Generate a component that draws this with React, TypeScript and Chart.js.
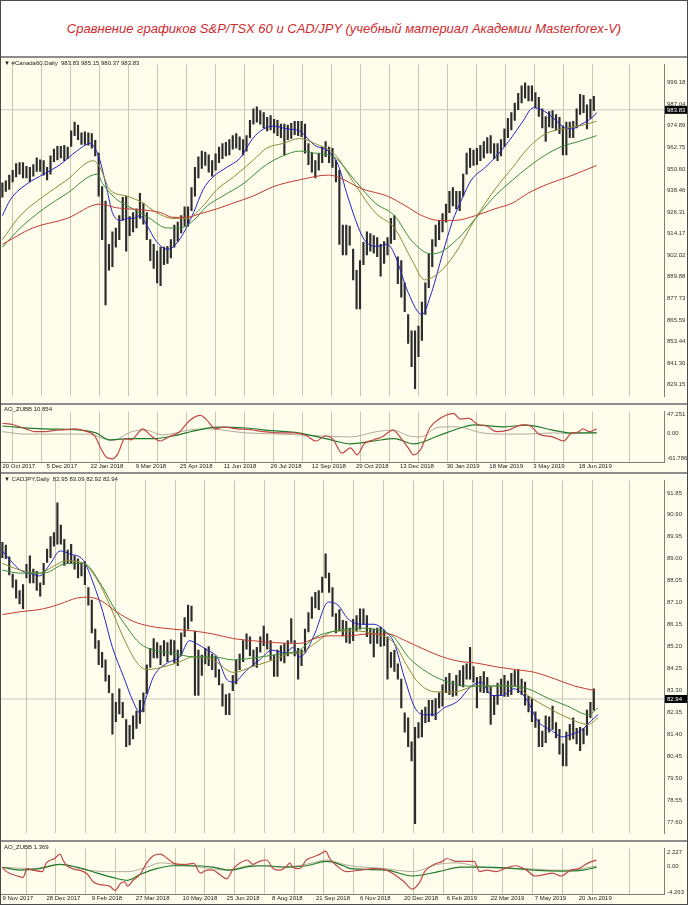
import React, { useEffect, useRef } from "react";
import { Chart, registerables } from "chart.js";

Chart.register(...registerables);

const FONT = "'Liberation Sans', Arial, sans-serif";
const BG = "#fffdec";
const GRID = "#cbc5ab";

const TITLE = "Сравнение графиков S&P/TSX 60 и CAD/JPY (учебный материал Академии Masterforex-V)";
const TSX_HEADER = "▼ #Canada60,Daily  983.83 985.15 980.37 983.83";
const CAD_HEADER = "▼ CADJPY,Daily  82.95 83.09 82.92 82.94";
const OSC1_HEADER = "AO_ZUBB 10.854";
const OSC2_HEADER = "AO_ZUBB 1.369";

// bars are read every 5 sessions (set A) and half-way between them (set B)
const SAMPLE_STEP = 5;
const X_MIN = -1;
const X_MAX = 481;

// ---------- S&P/TSX 60 ----------
const tsxHigh = [
  942.7, 947.1, 953.6, 954.1, 951.4, 956.8, 955.2, 957.9, 963.3, 963.9,
  972.0, 975.2, 971.4, 970.4, 959.5, 932.5, 915.1, 924.3, 935.2, 926.0,
  936.8, 926.0, 908.1, 906.5, 907.0, 918.9, 924.3, 929.2, 951.4, 960.6,
  958.5, 959.0, 964.9, 967.1, 970.4, 967.1, 977.9, 985.5, 982.3, 980.6,
  977.9, 975.8, 976.3, 977.4, 975.8, 959.5, 959.5, 966.0, 962.2, 949.8,
  918.9, 905.4, 898.9, 915.1, 913.0, 908.1, 911.9, 924.3, 898.9, 868.6,
  859.4, 875.6, 902.7, 918.9, 925.4, 937.9, 937.9, 947.6, 962.2, 962.2,
  966.0, 969.3, 964.9, 973.1, 982.3, 993.1, 999.1, 997.4, 990.9, 980.1,
  983.4, 979.6, 976.9, 977.4, 992.6, 986.6, 991.5,
];
const tsxLow = [
  934.6, 939.0, 946.0, 945.5, 943.3, 949.2, 947.1, 947.6, 955.7, 955.2,
  963.3, 967.1, 964.4, 962.2, 935.2, 874.0, 895.6, 910.8, 904.3, 915.1,
  922.7, 910.8, 894.6, 884.8, 897.3, 906.5, 914.6, 918.4, 935.2, 950.9,
  948.7, 949.8, 956.3, 958.5, 962.2, 958.5, 968.2, 976.9, 973.6, 972.5,
  969.3, 958.5, 967.7, 969.3, 959.5, 948.7, 949.8, 957.4, 951.4, 908.1,
  902.1, 888.1, 871.8, 902.1, 903.2, 890.2, 902.1, 910.8, 878.3, 852.3,
  826.9, 854.0, 883.7, 907.0, 915.1, 926.0, 928.1, 935.2, 951.4, 953.0,
  956.8, 959.5, 955.2, 963.3, 972.5, 983.9, 990.4, 988.8, 980.1, 966.0,
  973.6, 970.4, 958.5, 968.2, 981.2, 973.1, 983.4,
];
const tsxHighB = [
  943.8, 949.8, 954.1, 952.0, 953.0, 955.7, 951.4, 961.7, 963.3, 962.8,
  976.9, 970.9, 970.9, 966.6, 940.6, 908.1, 917.3, 934.6, 923.8, 928.1,
  931.4, 910.8, 904.3, 906.5, 910.8, 920.6, 929.2, 940.0, 957.4, 960.1,
  955.2, 962.8, 965.5, 969.3, 968.7, 969.3, 984.4, 983.4, 979.6, 978.5,
  975.8, 975.2, 977.4, 977.4, 964.9, 955.2, 962.8, 962.8, 955.2, 918.9,
  918.4, 893.5, 909.2, 914.1, 911.9, 909.7, 922.7, 901.1, 886.4, 859.4,
  862.1, 886.4, 910.8, 921.6, 930.8, 940.0, 937.9, 959.5, 961.2, 963.9,
  968.2, 964.9, 967.1, 979.0, 987.7, 997.4, 997.4, 993.6, 984.4, 982.8,
  981.2, 974.7, 976.9, 984.4, 992.0, 989.8,
];
const tsxLowB = [
  937.9, 943.3, 947.6, 945.5, 946.5, 949.2, 944.4, 954.7, 956.8, 956.3,
  969.3, 964.4, 963.9, 957.9, 910.8, 893.5, 906.5, 921.6, 913.0, 917.3,
  919.5, 898.9, 886.4, 896.7, 900.5, 909.7, 918.4, 927.1, 945.5, 952.5,
  946.5, 954.1, 957.9, 961.7, 961.2, 960.6, 975.8, 975.8, 972.0, 970.9,
  968.2, 967.1, 969.8, 968.7, 953.0, 945.5, 954.1, 954.1, 943.3, 902.1,
  907.6, 871.8, 896.7, 904.3, 901.1, 897.3, 908.6, 885.9, 870.2, 839.3,
  844.8, 868.6, 895.6, 910.8, 920.6, 929.8, 927.1, 947.6, 952.5, 955.2,
  959.5, 956.3, 957.9, 968.2, 977.9, 987.7, 988.8, 985.0, 973.6, 974.2,
  972.5, 958.5, 968.2, 973.6, 982.3, 979.0,
];
const tsxMaBlue = [
  [0, 924.3], [6, 933.5], [18, 942.2], [30, 947.6], [42, 953.0], [54, 960.6], [64, 964.9], [66, 963.9],
  [71, 955.2], [76, 939.0], [80, 926.0], [86, 921.6], [91, 922.7], [95, 922.7], [100, 924.3], [105, 918.9],
  [112, 909.7], [120, 905.4], [124, 906.5], [131, 913.5], [139, 926.0], [146, 939.0], [153, 946.0], [163, 951.4],
  [173, 956.8], [182, 967.7], [190, 973.1], [197, 974.7], [207, 973.1], [216, 972.0], [220, 969.3], [227, 963.9],
  [237, 960.6], [244, 953.0], [251, 935.2], [259, 917.3], [264, 909.7], [273, 907.0], [280, 908.1], [285, 902.7],
  [295, 881.0], [305, 868.6], [312, 881.0], [320, 902.7], [327, 920.6], [334, 933.5], [341, 944.4], [351, 951.4],
  [358, 956.8], [368, 966.0], [378, 976.9], [386, 985.0], [392, 983.9], [400, 979.6], [407, 974.7], [414, 973.1],
  [421, 975.8], [429, 979.6], [432, 982.3],
];
const tsxMaOlive = [
  [0, 910.8], [13, 924.3], [30, 935.2], [47, 944.4], [66, 955.2], [71, 951.4], [78, 939.0], [91, 935.2],
  [102, 931.4], [112, 926.0], [124, 922.7], [134, 922.7], [144, 928.1], [156, 939.0], [168, 946.0], [182, 955.2],
  [192, 962.2], [204, 964.9], [216, 967.7], [227, 964.9], [242, 958.5], [256, 942.2], [271, 926.0], [285, 917.3],
  [298, 898.9], [307, 888.1], [317, 891.9], [329, 902.7], [344, 922.7], [358, 939.0], [371, 951.4], [382, 962.2],
  [395, 970.4], [407, 973.1], [419, 974.7], [432, 977.4],
];
const tsxMaGreen = [
  [0, 906.5], [13, 917.3], [30, 928.1], [47, 936.8], [69, 947.6], [73, 942.2], [83, 933.5], [95, 928.1],
  [107, 922.7], [120, 917.3], [129, 917.3], [139, 921.6], [149, 929.8], [160, 935.2], [175, 942.2], [192, 953.0],
  [204, 957.9], [216, 960.6], [227, 959.5], [242, 956.8], [256, 944.4], [271, 931.4], [285, 924.3], [298, 909.7],
  [312, 902.7], [320, 904.3], [334, 913.5], [344, 922.7], [358, 935.2], [371, 944.4], [382, 951.4], [395, 958.5],
  [407, 963.3], [419, 966.0], [432, 969.3],
];
const tsxMaRed = [
  [0, 908.1], [22, 917.3], [47, 922.7], [71, 930.8], [83, 928.7], [100, 927.6], [115, 926.0], [124, 923.3],
  [134, 923.3], [144, 925.4], [156, 928.1], [168, 931.4], [182, 935.2], [197, 940.6], [216, 944.4], [237, 947.1],
  [244, 946.0], [261, 939.5], [280, 935.2], [293, 929.8], [305, 924.3], [317, 921.6], [329, 921.6], [344, 924.3],
  [358, 928.1], [371, 931.4], [382, 936.8], [397, 942.2], [411, 946.0], [432, 952.5],
];
const tsxLast = 983.83;
const tsxTickValues = [829.15, 841.3, 853.44, 865.59, 877.73, 889.88, 902.02, 914.17, 926.31, 938.46, 950.6, 962.75, 974.89, 987.04, 999.18];
const tsxTickLabels = ["829.15", "841.30", "853.44", "865.59", "877.73", "889.88", "902.02", "914.17", "926.31", "938.46", "950.60", "962.75", "974.89", "987.04", "999.18"];

const osc1Red = [
  [0, 25.8], [8, 22], [17, 12], [24, 5], [30, 5], [37, 7.5], [46, 10], [53, 12], [59, 7.5], [67, -5], [72, -39],
  [76, -59], [80, -62], [84, -49], [89, -12], [94, -15], [97, -5], [102, 12], [108, -5], [115, -18], [121, -8],
  [129, 5], [136, 32], [144, 45], [148, 36], [155, 12], [161, 16], [171, 12], [180, 10], [190, 5], [203, 2],
  [212, 2], [221, -5], [228, -18], [235, -5], [240, -12], [247, -48], [253, -35], [258, -52], [263, -25],
  [270, -15], [276, -8], [284, 9], [290, -12], [295, -35], [299, -52], [304, -39], [311, 16], [317, 35],
  [323, 46], [328, 50], [333, 36], [339, 38], [346, 22], [352, 19], [359, 5], [368, 9], [378, 22], [384, 19],
  [390, -1], [400, -8], [408, -18], [413, -1], [419, 5], [422, 12], [427, 5], [432, 12],
];
const osc1Green = [
  [0, 19], [30, 12], [53, 10], [68, 2], [78, -15], [94, -12], [110, -12], [125, -5], [142, 9], [157, 16],
  [177, 14], [196, 7.5], [215, 2], [235, -12], [253, -25], [270, -18], [285, -12], [299, -25], [317, -5],
  [333, 14], [343, 22], [365, 17], [381, 21], [400, 9], [413, 2], [426, 2], [432, 2],
];
const osc1Light = [
  [0, 5], [17, -1], [46, -1], [62, -1], [80, -17], [94, 5], [104, 9], [116, -3], [136, 9], [148, 12], [177, 2],
  [203, -1], [228, -5], [253, -8], [272, 5], [284, 9], [295, -5], [304, -8], [317, 16], [330, 17], [349, 2],
  [365, -1], [381, -1], [400, 2], [413, 0], [432, 3],
];
const osc1TickValues = [47.251, 0, -61.786];
const osc1TickLabels = ["47.251", "0.00", "-61.786"];

const tsxDates = ["20 Oct 2017", "5 Dec 2017", "22 Jan 2018", "9 Mar 2018", "25 Apr 2018", "11 Jun 2018", "26 Jul 2018", "12 Sep 2018", "29 Oct 2018", "13 Dec 2018", "30 Jan 2019", "18 Mar 2019", "3 May 2019", "18 Jun 2019"];
const tsxDateBars = [0, 32, 64, 97, 129, 161, 195, 225, 257, 289, 323, 354, 386, 419];

// ---------- CAD/JPY ----------
const cadHigh = [
  89.71, 89.09, 88.09, 87.88, 89.13, 88.46, 88.80, 89.96, 91.42, 89.84,
  89.63, 89.00, 88.88, 87.21, 85.46, 84.63, 83.17, 83.38, 82.05, 82.21,
  82.88, 84.42, 85.55, 85.25, 85.38, 85.46, 85.80, 87.00, 85.88, 84.84,
  85.21, 84.80, 83.59, 83.17, 84.63, 85.46, 85.63, 85.17, 86.09, 85.46,
  85.05, 85.34, 86.42, 85.13, 85.96, 87.34, 87.63, 89.21, 87.76, 86.80,
  86.30, 86.38, 86.84, 86.55, 85.96, 86.05, 85.63, 85.05, 83.80, 82.13,
  81.71, 82.46, 82.88, 82.96, 83.55, 84.05, 83.96, 84.38, 85.17, 83.88,
  84.13, 83.46, 83.63, 83.96, 84.05, 84.21, 83.67, 82.96, 82.05, 82.21,
  82.63, 81.63, 81.51, 82.13, 81.71, 82.46, 83.38,
];
const cadLow = [
  89.05, 88.30, 87.30, 86.84, 87.96, 87.63, 87.88, 89.05, 89.63, 88.71,
  88.80, 88.17, 87.88, 85.80, 84.42, 83.71, 81.42, 82.30, 80.88, 81.21,
  81.88, 83.17, 84.71, 84.42, 84.55, 84.50, 84.80, 85.96, 83.09, 83.96,
  84.38, 83.88, 82.63, 82.26, 83.59, 84.55, 84.80, 84.30, 85.25, 84.63,
  83.92, 84.50, 85.38, 83.80, 84.96, 86.42, 86.80, 88.17, 86.51, 85.88,
  85.38, 85.46, 85.96, 85.63, 84.76, 85.21, 83.80, 84.13, 82.55, 80.88,
  77.55, 81.30, 81.96, 82.05, 82.63, 83.13, 83.09, 83.46, 83.80, 82.55,
  83.21, 81.84, 82.71, 83.05, 83.13, 83.21, 82.67, 81.96, 80.88, 81.05,
  81.63, 80.55, 80.05, 81.21, 80.71, 81.38, 82.46,
];
const cadHighB = [
  89.59, 88.34, 87.63, 88.76, 88.55, 87.96, 89.42, 90.13, 90.46, 89.38,
  89.13, 88.84, 87.76, 85.96, 84.96, 83.96, 82.80, 82.80, 81.80, 82.42,
  83.21, 85.13, 85.38, 85.46, 85.50, 85.05, 86.46, 86.96, 85.05, 85.13,
  84.88, 84.21, 83.13, 83.96, 84.88, 85.76, 85.05, 85.63, 85.76, 84.84,
  85.25, 85.46, 85.46, 85.05, 86.67, 87.55, 88.21, 88.38, 86.63, 86.34,
  86.00, 86.55, 86.84, 86.00, 86.00, 85.92, 84.96, 84.46, 82.34, 81.09,
  81.92, 82.59, 82.88, 83.21, 83.88, 83.71, 84.17, 84.46, 84.34, 83.92,
  83.88, 83.09, 83.80, 83.71, 84.17, 83.80, 83.05, 82.38, 81.55, 82.17,
  81.92, 81.00, 81.84, 81.67, 81.67, 82.80,
];
const cadLowB = [
  89.00, 87.76, 87.05, 88.17, 87.96, 87.38, 88.84, 89.55, 89.63, 88.80,
  88.55, 88.26, 87.00, 85.13, 84.30, 83.21, 81.96, 82.13, 80.96, 81.67,
  82.38, 84.30, 84.71, 84.80, 84.84, 84.38, 85.63, 86.30, 83.09, 84.46,
  84.21, 83.55, 82.26, 83.30, 84.21, 85.09, 84.38, 84.96, 85.09, 83.92,
  84.59, 84.80, 84.80, 84.38, 85.84, 86.88, 87.55, 87.55, 85.80, 85.67,
  85.34, 85.88, 86.17, 85.34, 85.34, 85.25, 84.30, 83.80, 81.51, 80.26,
  81.26, 81.92, 82.21, 82.55, 83.21, 83.05, 83.50, 83.80, 83.67, 83.25,
  83.21, 82.26, 83.13, 83.05, 83.50, 83.13, 82.38, 81.71, 80.88, 81.51,
  81.26, 80.05, 81.17, 81.00, 81.00, 82.13,
];
const cadMaBlue = [
  [0, 89.34], [6, 88.92], [13, 88.51], [20, 88.38], [27, 88.26], [35, 88.8], [42, 89.34], [49, 89.21],
  [59, 88.92], [66, 87.96], [73, 86.71], [80, 85.17], [88, 83.92], [95, 82.84], [100, 82.34], [105, 83.09],
  [110, 83.92], [120, 84.5], [129, 84.76], [136, 85.46], [141, 85.34], [149, 85.05], [156, 84.76], [163, 83.8],
  [168, 83.67], [178, 84.21], [187, 84.63], [196, 85.05], [206, 84.92], [211, 85.17], [216, 84.76], [220, 84.92],
  [227, 85.75], [237, 87.13], [244, 87.0], [251, 86.42], [261, 86.17], [270, 86.17], [278, 85.88], [285, 85.34],
  [292, 83.92], [300, 82.55], [307, 82.26], [314, 82.26], [321, 82.55], [331, 82.84], [341, 83.5], [348, 83.67],
  [356, 83.09], [363, 83.09], [372, 83.38], [382, 82.84], [389, 82.0], [399, 81.59], [407, 81.3], [414, 81.42],
  [421, 81.59], [428, 82.0], [433, 82.26],
];
const cadMaOlive = [
  [0, 88.8], [13, 88.51], [27, 88.38], [37, 88.67], [47, 88.92], [59, 88.8], [69, 88.09], [78, 87.0],
  [88, 85.59], [98, 84.5], [105, 84.21], [115, 84.3], [127, 84.5], [139, 84.76], [153, 84.63], [168, 84.09],
  [182, 84.34], [197, 84.63], [211, 84.92], [216, 84.92], [227, 85.34], [242, 85.88], [256, 85.88], [271, 85.75],
  [285, 85.34], [293, 84.5], [302, 83.67], [315, 83.25], [329, 83.25], [344, 83.5], [358, 83.5], [373, 83.5],
  [382, 83.09], [397, 82.55], [411, 82.13], [426, 81.84], [433, 82.13],
];
const cadMaGreen = [
  [0, 88.51], [13, 88.38], [30, 88.38], [47, 88.8], [59, 88.8], [71, 87.96], [80, 87.0], [91, 86.0],
  [100, 85.34], [110, 85.05], [124, 84.92], [139, 84.76], [153, 84.76], [168, 84.63], [182, 84.71], [197, 84.84],
  [211, 84.96], [216, 85.05], [227, 85.59], [242, 85.88], [261, 86.0], [276, 85.88], [285, 85.59], [295, 84.76],
  [309, 84.09], [324, 83.67], [339, 83.5], [353, 83.5], [368, 83.5], [382, 83.38], [397, 82.96], [411, 82.63],
  [426, 82.26], [433, 82.55],
];
const cadMaRed = [
  [0, 86.59], [13, 86.71], [30, 86.84], [42, 87.05], [54, 87.3], [62, 87.34], [71, 87.21], [83, 86.71],
  [95, 86.3], [107, 86.09], [124, 85.96], [139, 85.88], [153, 85.75], [168, 85.55], [182, 85.46], [197, 85.38],
  [216, 85.34], [227, 85.55], [237, 85.67], [251, 85.67], [266, 85.75], [280, 85.75], [293, 85.46], [305, 85.13],
  [320, 84.76], [334, 84.55], [344, 84.5], [358, 84.34], [373, 84.21], [387, 84.09], [402, 83.8], [416, 83.5],
  [431, 83.3],
];
const cadLast = 82.94;
const cadTickValues = [77.6, 78.55, 79.5, 80.45, 81.4, 82.35, 83.3, 84.25, 85.2, 86.15, 87.1, 88.05, 89.0, 89.95, 90.9, 91.85];
const cadTickLabels = ["77.60", "78.55", "79.50", "80.45", "81.40", "82.35", "83.30", "84.25", "85.20", "86.15", "87.10", "88.05", "89.00", "89.95", "90.90", "91.85"];

const osc2Red = [
  [0, -0.2], [3, -0.92], [11, -1.64], [15, -1.87], [18, -0.43], [22, -0.67], [29, -0.92], [32, 0.53], [38, 1.25],
  [42, 1.97], [44, 1.0], [47, 0.05], [51, -0.43], [59, -0.92], [62, -1.4], [66, -2.6], [71, -3.07], [78, -3.31],
  [82, -4.03], [86, -2.83], [89, -2.6], [91, -3.31], [95, -2.35], [100, -1.4], [105, 0.53], [110, 1.73],
  [115, 1.97], [120, 1.25], [124, 0.53], [129, 0.29], [134, 0.29], [139, 0.43], [144, -1.16], [149, -0.67],
  [153, -0.67], [158, -1.4], [163, -2.1], [168, -0.43], [173, 0.53], [178, 1.0], [182, 0.29], [187, 0.77],
  [192, 1.0], [197, -0.43], [202, -0.67], [207, 0.05], [209, 0.53], [211, -0.19], [216, -0.43], [221, 1.0],
  [226, 1.49], [231, 1.97], [235, 2.45], [238, 1.25], [243, 0.05], [250, -0.92], [260, -0.67], [270, -0.43],
  [279, -0.67], [285, -1.4], [292, -2.6], [298, -3.8], [303, -2.83], [307, -0.92], [314, 0.29], [320, 0.77],
  [323, 1.25], [330, 0.77], [336, 0.77], [343, 0.77], [347, -0.92], [352, -0.67], [359, -0.92], [365, -0.43],
  [373, 0.05], [381, -0.67], [387, -1.64], [394, -1.4], [400, -1.16], [406, -1.64], [413, -0.67], [419, -0.43],
  [426, 0.53], [432, 1.0],
];
const osc2Green = [
  [0, -0.2], [13, -0.67], [27, -0.43], [42, 0.29], [54, -0.19], [69, -1.16], [80, -1.87], [91, -2.35],
  [100, -1.4], [112, -0.43], [124, 0.05], [139, 0.05], [153, -0.19], [166, -0.67], [180, -0.05], [192, 0.05],
  [207, -0.19], [221, 0.05], [236, 0.77], [248, 0.05], [253, -0.43], [279, -0.67], [298, -1.64], [317, -0.92],
  [333, -0.19], [349, -0.19], [368, -0.34], [387, -0.67], [406, -0.82], [422, -0.67], [432, -0.19],
];
const osc2Light = [
  [0, -0.2], [22, -0.43], [42, 0.29], [62, -0.67], [78, -0.92], [91, -0.92], [105, -0.19], [115, 0.53],
  [129, 0.14], [144, -0.19], [163, -0.67], [182, 0.14], [202, -0.19], [221, 0.29], [236, 1.0], [248, 0.29],
  [253, 0.05], [279, -0.43], [298, -0.92], [317, 0.29], [330, 0.53], [349, -0.19], [381, -0.43], [400, -0.67],
  [413, -0.67], [432, 0.05],
];
const osc2TickValues = [2.227, 0, -4.263];
const osc2TickLabels = ["2.227", "0.00", "-4.263"];

const cadDates = ["9 Nov 2017", "28 Dec 2017", "9 Feb 2018", "27 Mar 2018", "10 May 2018", "25 Jun 2018", "8 Aug 2018", "21 Sep 2018", "6 Nov 2018", "20 Dec 2018", "6 Feb 2019", "22 Mar 2019", "7 May 2019", "20 Jun 2019"];
const cadDateBars = [0, 32, 65, 97, 131, 163, 196, 228, 260, 292, 323, 355, 387, 419];

// vertical grid (bar positions)
const tsxGrid = [...Array.from({ length: 21 }, (_, k) => 7.7 + 21.08 * k), 456];
const cadGrid = [...Array.from({ length: 20 }, (_, k) => 17.2 + 21.66 * k), 456];

const MA_COLORS = ["#2323c4", "#8c8a34", "#3b8a3b", "#c23a32"];
const OSC_COLORS = ["#c04848", "#1f7a2a", "#b3aa9c"];

function gridAxis(grid: number[]): any {
  return {
    type: "linear",
    min: X_MIN,
    max: X_MAX,
    bounds: "data",
    offset: false,
    afterBuildTicks: (s: any) => {
      s.ticks = grid.map((v) => ({ value: v }));
    },
    afterFit: (s: any) => {
      s.height = 0;
    },
    ticks: { display: false },
    grid: { display: true, color: GRID, lineWidth: 1, drawTicks: false, offset: false },
    border: { display: false },
  };
}

function yAxis(min: number, max: number, vals: number[], labels: string[]): any {
  return {
    position: "right",
    min,
    max,
    bounds: "data",
    afterBuildTicks: (s: any) => {
      s.ticks = vals.map((v) => ({ value: v }));
    },
    afterFit: (s: any) => {
      s.width = 24;
    },
    ticks: {
      autoSkip: false,
      padding: 3,
      color: "#333",
      font: { size: 6, family: FONT },
      callback: (v: number) => labels[vals.indexOf(v)],
    },
    grid: { display: false, drawTicks: false },
    border: { display: true, color: "#7d7d7d", width: 1 },
  };
}

function tagPlugin(value: number, label: string) {
  return {
    id: "priceTag",
    afterDraw(chart: any) {
      const y = chart.scales.y.getPixelForValue(value);
      const x = chart.chartArea.right + 1;
      const ctx = chart.ctx;
      ctx.save();
      ctx.fillStyle = "#000";
      ctx.fillRect(x, y - 4, 22, 8);
      ctx.fillStyle = "#fff";
      ctx.font = `6px ${FONT}`;
      ctx.textBaseline = "middle";
      ctx.fillText(label, x + 2, y + 0.5);
      ctx.restore();
    },
  };
}

function priceChart(canvas: HTMLCanvasElement, p: any) {
  const bars = [
    ...p.high.map((h: number, i: number) => ({ x: i * SAMPLE_STEP, y: [p.low[i], h] })),
    ...p.highB.map((h: number, i: number) => ({ x: i * SAMPLE_STEP + SAMPLE_STEP / 2, y: [p.lowB[i], h] })),
  ];
  return new Chart(canvas, {
    type: "bar",
    data: {
      datasets: [
        {
          type: "line",
          data: [{ x: X_MIN, y: p.last }, { x: X_MAX, y: p.last }],
          borderColor: "#c9c9c9",
          borderWidth: 1,
          pointRadius: 0,
          order: 10,
        },
        {
          type: "bar",
          data: bars,
          backgroundColor: "#2c2c2c",
          barThickness: 1.5,
          order: 6,
        },
        ...p.mas.map((m: number[][], k: number) => ({
          type: "line",
          data: m.map(([x, y]) => ({ x, y })),
          borderColor: MA_COLORS[k],
          borderWidth: 1,
          pointRadius: 0,
          cubicInterpolationMode: "monotone",
          order: 4 - k,
        })),
      ],
    } as any,
    options: {
      animation: false,
      responsive: false,
      events: [],
      layout: { padding: { left: 1, right: 0, top: 0, bottom: 0 } },
      plugins: { legend: { display: false }, tooltip: { enabled: false } },
      scales: {
        x: gridAxis(p.grid),
        y: yAxis(p.min, p.max, p.tickVals, p.tickLabels),
      },
    } as any,
    plugins: [tagPlugin(p.last, p.lastLabel)],
  });
}

function oscChart(canvas: HTMLCanvasElement, p: any) {
  return new Chart(canvas, {
    type: "line",
    data: {
      datasets: p.lines.map((l: number[][], k: number) => ({
        data: l.map(([x, y]) => ({ x, y })),
        borderColor: OSC_COLORS[k],
        borderWidth: k === 2 ? 1 : 1.2,
        pointRadius: 0,
        cubicInterpolationMode: "monotone",
        order: k === 0 ? 1 : k === 1 ? 2 : 3,
      })),
    } as any,
    options: {
      animation: false,
      responsive: false,
      events: [],
      layout: { padding: { left: 1, right: 0, top: 0, bottom: 0 } },
      plugins: { legend: { display: false }, tooltip: { enabled: false } },
      scales: {
        x: { ...gridAxis(p.grid), border: { display: true, color: "#7d7d7d" } },
        xl: {
          type: "linear",
          position: "bottom",
          min: X_MIN,
          max: X_MAX,
          bounds: "data",
          offset: false,
          afterBuildTicks: (s: any) => {
            s.ticks = p.dateBars.map((v: number) => ({ value: v }));
          },
          afterFit: (s: any) => {
            s.height = p.axisH;
          },
          ticks: {
            autoSkip: false,
            maxRotation: 0,
            align: "start",
            padding: 1,
            color: "#222",
            font: { size: 6, family: FONT },
            callback: (v: number) => p.dates[p.dateBars.indexOf(v)],
          },
          grid: { display: false, drawTicks: false },
          border: { display: false },
        },
        y: yAxis(p.min, p.max, p.tickVals, p.tickLabels),
      },
    } as any,
  });
}

const abs = (top: number, height: number): React.CSSProperties => ({
  position: "absolute",
  left: 0,
  top,
  width: 688,
  height,
  background: BG,
});

const sep = (top: number, h = 2): React.CSSProperties => ({
  position: "absolute",
  left: 0,
  top,
  width: 688,
  height: h,
  background: "#8d8d8d",
});

const headerStyle = (top: number): React.CSSProperties => ({
  position: "absolute",
  left: 4,
  top,
  fontSize: 6,
  lineHeight: "7px",
  color: "#222",
  fontFamily: FONT,
  whiteSpace: "pre",
});

export default function App() {
  const c1 = useRef<HTMLCanvasElement>(null);
  const c2 = useRef<HTMLCanvasElement>(null);
  const c3 = useRef<HTMLCanvasElement>(null);
  const c4 = useRef<HTMLCanvasElement>(null);

  useEffect(() => {
    const charts = [
      priceChart(c1.current!, {
        high: tsxHigh,
        low: tsxLow,
        highB: tsxHighB,
        lowB: tsxLowB,
        mas: [tsxMaBlue, tsxMaOlive, tsxMaGreen, tsxMaRed],
        min: 822.5,
        max: 1009.3,
        tickVals: tsxTickValues,
        tickLabels: tsxTickLabels,
        grid: tsxGrid,
        last: tsxLast,
        lastLabel: "983.83",
      }),
      oscChart(c2.current!, {
        lines: [osc1Red, osc1Green, osc1Light],
        min: -69.8,
        max: 54.5,
        tickVals: osc1TickValues,
        tickLabels: osc1TickLabels,
        grid: tsxGrid,
        dateBars: tsxDateBars,
        dates: tsxDates,
        axisH: 10,
      }),
      priceChart(c3.current!, {
        high: cadHigh,
        low: cadLow,
        highB: cadHighB,
        lowB: cadLowB,
        mas: [cadMaBlue, cadMaOlive, cadMaGreen, cadMaRed],
        min: 77.13,
        max: 92.38,
        tickVals: cadTickValues,
        tickLabels: cadTickLabels,
        grid: cadGrid,
        last: cadLast,
        lastLabel: "82.94",
      }),
      oscChart(c4.current!, {
        lines: [osc2Red, osc2Green, osc2Light],
        min: -4.61,
        max: 2.88,
        tickVals: osc2TickValues,
        tickLabels: osc2TickLabels,
        grid: cadGrid,
        dateBars: cadDateBars,
        dates: cadDates,
        axisH: 11,
      }),
    ];
    return () => charts.forEach((c) => c.destroy());
  }, []);

  return (
    <div
      style={{
        position: "absolute",
        left: 0,
        top: 0,
        width: 688,
        height: 905,
        background: "#fff",
        overflow: "hidden",
        fontFamily: FONT,
      }}
    >
      <div
        style={{
          position: "absolute",
          left: 0,
          top: 0,
          width: 688,
          height: 56,
          display: "flex",
          alignItems: "center",
          justifyContent: "center",
          color: "#cf2a2d",
          fontStyle: "italic",
          fontSize: 13,
          fontFamily: FONT,
        }}
      >
        {TITLE}
      </div>
      <div style={sep(56, 2)} />
      <canvas ref={c1} width={688} height={345} style={abs(58, 345)} />
      <div style={sep(403, 2)} />
      <canvas ref={c2} width={688} height={67} style={abs(405, 67)} />
      <div style={sep(472, 2)} />
      <canvas ref={c3} width={688} height={366} style={abs(474, 366)} />
      <div style={sep(840, 2)} />
      <canvas ref={c4} width={688} height={63} style={abs(842, 63)} />
      <div style={headerStyle(60)}>{TSX_HEADER}</div>
      <div style={headerStyle(406)}>{OSC1_HEADER}</div>
      <div style={headerStyle(476)}>{CAD_HEADER}</div>
      <div style={headerStyle(844)}>{OSC2_HEADER}</div>
      <div
        style={{
          position: "absolute",
          left: 0,
          top: 0,
          width: 686,
          height: 903,
          border: "1px solid #4a4a4a",
          pointerEvents: "none",
        }}
      />
    </div>
  );
}
